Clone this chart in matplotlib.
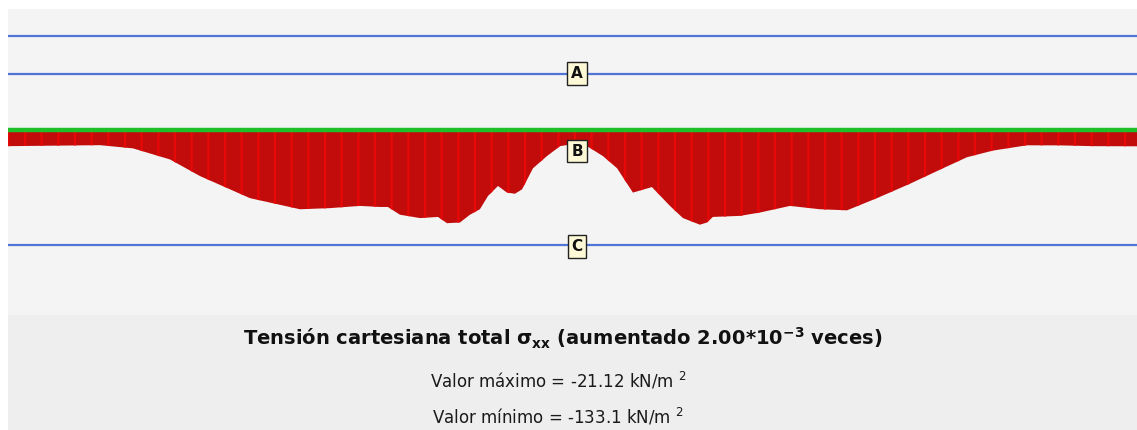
import numpy as np
import matplotlib.pyplot as plt
from matplotlib.patches import Rectangle

# Cross-section geometry (m)
X_MIN, X_MAX = 0.0, 60.0
Y_MIN, Y_MAX = -9.83, 6.43
TOP_LINE_Y = 5.0
LINE_A_Y = 3.0
SURFACE_Y = 0.0
LINE_C_Y = -6.1

# Total cartesian stress sigma_xx along the section line B (kN/m2)
STATION_X = [0.00, 4.89, 6.64, 8.61, 10.20, 12.86, 15.52, 17.11, 18.71, 19.77,
             20.19, 20.83, 21.90, 22.85, 23.33, 24.02, 24.55, 25.08, 25.51, 26.04,
             26.52, 26.94, 27.32, 27.90, 28.64, 29.34, 29.71, 30.77, 31.62, 32.37,
             33.21, 34.22, 35.18, 35.87, 36.77, 37.15, 37.46, 38.90, 39.96, 41.56,
             43.15, 44.59, 46.18, 47.93, 49.69, 50.96, 52.35, 54.15, 55.91, 57.66,
             60.00]
STRESS_XX = [-22.7, -21.3, -25.8, -41.4, -64.7, -95.8, -111.4, -109.8, -106.7, -108.2,
             -108.2, -119.1, -123.8, -122.2, -131.0, -130.0, -119.1, -111.4, -92.7, -78.7,
             -88.0, -89.6, -83.4, -53.8, -36.7, -22.7, -21.12, -22.7, -36.7, -53.8,
             -88.0, -80.2, -106.7, -123.8, -133.1, -130.0, -122.2, -120.7, -116.0, -106.7,
             -111.4, -112.9, -95.8, -75.6, -53.8, -38.3, -28.9, -21.5, -21.6, -22.7,
             -22.9]

LABELS = {"A": (30.24, LINE_A_Y), "B": (30.24, -1.12), "C": (30.24, LINE_C_Y - 0.1)}

# drawing scale of the stress diagram (m per kN/m2)
DIAGRAM_SCALE = 0.0378

x = np.array(STATION_X)
sxx = np.array(STRESS_XX)

plt.rcParams["hatch.linewidth"] = 1.6
plt.rcParams["mathtext.fontset"] = "dejavusans"

W, H = 1137, 430
fig = plt.figure(figsize=(W / 100, H / 100), dpi=100, facecolor="white")

# caption panel under the plot
fig.patches.append(Rectangle((8 / W, 0), 1 - 8 / W, 115 / H, transform=fig.transFigure,
                             facecolor="#eeeeee", edgecolor="none", zorder=0))

ax = fig.add_axes([8 / W, 115 / H, 1129 / W, 306 / H])
ax.set_facecolor("#f4f4f4")
ax.set_xlim(X_MIN, X_MAX)
ax.set_ylim(Y_MIN, Y_MAX)
for s in ax.spines.values():
    s.set_visible(False)
ax.set_xticks([])
ax.set_yticks([])

blue = "#4f74d6"
for yy in (TOP_LINE_Y, LINE_A_Y, LINE_C_Y):
    ax.axhline(yy, color=blue, lw=1.6, zorder=2)

ax.fill_between(x, SURFACE_Y, SURFACE_Y + sxx * DIAGRAM_SCALE,
                facecolor="#c20c0c", edgecolor="#e80808", hatch="|",
                linewidth=0, zorder=3)
ax.axhline(SURFACE_Y, color="#1fbf2a", lw=3.2, zorder=4)

for name, (lx, ly) in LABELS.items():
    ax.text(lx, ly, name, ha="center", va="center", fontsize=11, fontweight="bold",
            family="DejaVu Sans", color="#111111", zorder=6,
            bbox=dict(boxstyle="square,pad=0.25", facecolor="#fdf9d6",
                      edgecolor="#222222", linewidth=1.0))

font = ["Liberation Sans Narrow", "DejaVu Sans"]
fig.text(563 / W, 1 - 338 / H,
         r"Tensión cartesiana total $\mathbf{\sigma_{xx}}$ (aumentado 2.00*10$^{\mathbf{-3}}$ veces)",
         ha="center", va="center", fontsize=14, fontweight="bold", family=font,
         color="#111111")
fig.text(558 / W, 1 - 381 / H,
         f"Valor máximo = {sxx.max():.2f} kN/m $^{{2}}$",
         ha="center", va="center", fontsize=12, family=font, color="#1a1a1a")
fig.text(558 / W, 1 - 417 / H,
         f"Valor mínimo = {sxx.min():.1f} kN/m $^{{2}}$",
         ha="center", va="center", fontsize=12, family=font, color="#1a1a1a")

fig.savefig("out.png", dpi=100, facecolor="white")
